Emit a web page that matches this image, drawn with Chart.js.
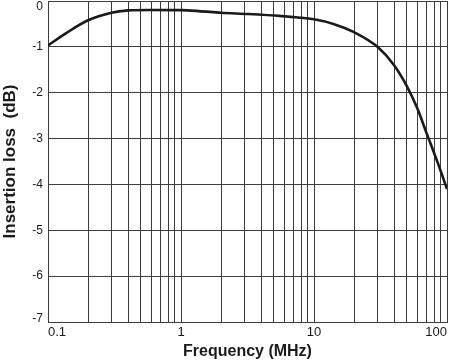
<!DOCTYPE html>
<html>
<head>
<meta charset="utf-8">
<script src="https://cdn.jsdelivr.net/npm/chart.js@4"></script>
<style>
  html, body { margin: 0; padding: 0; background: #fff; }
  canvas { display: block; }
</style>
</head>
<body>
<canvas id="lossChart" width="450" height="361"></canvas>
<script>
// curve: frequency (MHz) vs insertion loss (dB)
const freqs = [0.1, 0.137, 0.2, 0.3, 0.4, 0.57, 1.0, 1.36, 2.0, 3.2, 5.7, 7.6, 10, 14, 20, 30, 40, 50, 60, 70, 85, 100];
const loss = [-0.97, -0.70, -0.42, -0.255, -0.205, -0.195, -0.20, -0.22, -0.255, -0.285, -0.33, -0.36, -0.40, -0.50, -0.68, -1.0, -1.40, -1.86, -2.35, -2.87, -3.52, -4.1];

// grid lines on the log axis and which of them carry a label
const xGrid = [0.1, 0.2, 0.3, 0.4, 0.5, 0.6, 0.7, 0.8, 0.9,
  1, 2, 3, 4, 5, 6, 7, 8, 9,
  10, 20, 30, 40, 50, 60, 70, 80, 90, 100];
const xLabels = [0.1, 1, 10, 100];
const yTicks = [-7, -6, -5, -4, -3, -2, -1, 0];

const gridColor = '#3c3c3c';
const textColor = '#1a1a1a';

Chart.defaults.font.family = '"Liberation Sans", Arial, sans-serif';
Chart.defaults.color = textColor;

// keep the end labels of the y axis inside the plot, like the original
const innerYLabels = {
  id: 'innerYLabels',
  beforeDraw(chart) {
    const items = chart.scales.y.getLabelItems();
    const first = items[0], last = items[items.length - 1];
    first.options.textBaseline = 'alphabetic';
    first.options.translation[1] = chart.chartArea.bottom;
    last.options.textBaseline = 'alphabetic';
    last.options.translation[1] = chart.chartArea.top + 8.5;
  }
};

const ctx = document.getElementById('lossChart').getContext('2d');
new Chart(ctx, {
  type: 'line',
  data: {
    datasets: [{
      data: freqs.map((f, i) => ({ x: f, y: loss[i] })),
      borderColor: '#1a1a1a',
      borderWidth: 2.6,
      pointRadius: 0,
      cubicInterpolationMode: 'monotone',
      fill: false
    }]
  },
  options: {
    responsive: false,
    animation: false,
    layout: { padding: { top: 1, right: 1, left: 0, bottom: 0 } },
    plugins: { legend: { display: false }, tooltip: { enabled: false } },
    scales: {
      x: {
        type: 'logarithmic',
        min: 0.1,
        max: 100,
        afterBuildTicks: (scale) => { scale.ticks = xGrid.map(v => ({ value: v })); },
        afterFit: (scale) => { scale.height = 39; },
        ticks: {
          autoSkip: false,
          maxRotation: 0,
          align: 'inner',
          padding: 3,
          font: { size: 13 },
          color: textColor,
          callback: (v) => xLabels.includes(v) ? String(v) : ''
        },
        grid: { color: gridColor, lineWidth: 1, drawTicks: false },
        border: { color: gridColor, width: 1 },
        title: {
          display: true,
          text: 'Frequency (MHz)',
          font: { size: 16, weight: 'bold' },
          color: textColor,
          padding: { top: 0, bottom: 0 }
        }
      },
      y: {
        type: 'linear',
        min: -7,
        max: 0,
        afterBuildTicks: (scale) => { scale.ticks = yTicks.map(v => ({ value: v })); },
        afterFit: (scale) => {
          scale.width = 48;
          scale.paddingTop = 0;
          scale.paddingBottom = 0;
        },
        ticks: {
          padding: 5,
          font: { size: 12 },
          color: textColor,
          callback: (v) => String(v)
        },
        grid: { color: gridColor, lineWidth: 1, drawTicks: false },
        border: { color: gridColor, width: 1 },
        title: {
          display: true,
          text: 'Insertion loss  (dB)',
          font: { size: 17, weight: 'bold' },
          color: textColor,
          padding: { top: 0, bottom: 0 }
        }
      }
    }
  },
  plugins: [innerYLabels]
});
</script>
</body>
</html>
